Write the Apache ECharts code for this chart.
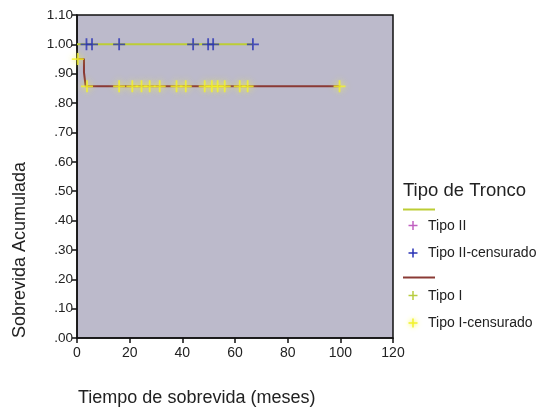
<!DOCTYPE html>
<html>
<head>
<meta charset="utf-8">
<script src="https://cdn.jsdelivr.net/npm/echarts@6/dist/echarts.min.js"></script>
<style>
  html, body { margin: 0; padding: 0; background: #ffffff; }
  #chart { width: 543px; height: 409px; }
</style>
</head>
<body>
<div id="chart"></div>
<script>
// Kaplan-Meier survival by trunk type
const xTicks = [0, 20, 40, 60, 80, 100, 120];
const yTicks = [0, 0.1, 0.2, 0.3, 0.4, 0.5, 0.6, 0.7, 0.8, 0.9, 1.0, 1.1];

// Tipo II: no events, survival stays at 1.00
const tipo2Times = [0, 66.8];
const tipo2Surv = [1.0, 1.0];
const tipo2CensTimes = [3.6, 5.7, 16.0, 44.1, 49.8, 51.7, 66.8];

// Tipo I: step curve
const tipo1Times = [0, 2.65, 3.3, 100];
const tipo1Surv = [0.95, 0.905, 0.857, 0.857];
const tipo1CensTimes = [0.3, 3.8, 16.0, 21.0, 24.5, 27.6, 31.4, 37.8, 41.3, 48.5, 51.2, 53.4, 56.1, 61.8, 64.8, 99.7];

// Step path: value held until the next event time
function stepPath(times, surv) {
  const pts = [];
  for (let i = 0; i < times.length; i++) {
    if (i > 0) pts.push([times[i], surv[i - 1]]);
    pts.push([times[i], surv[i]]);
  }
  return pts;
}
// Survival value at time t (for censored markers)
function survAt(times, surv, t) {
  let v = surv[0];
  for (let i = 0; i < times.length; i++) if (times[i] <= t) v = surv[i];
  return v;
}

const plus = 'path://M4.25,0H5.75V10H4.25ZM0,4.25H10V5.75H0Z';
const FONT = '"Liberation Sans", Arial, sans-serif';

// Small plus-sign glyph for the legend
function legendPlus(cx, cy, color, glow) {
  const s = 4.5, w = 0.75;
  const st = glow ? { fill: color, shadowBlur: 5, shadowColor: color } : { fill: color };
  return {
    type: 'group',
    children: [
      { type: 'rect', shape: { x: cx - s, y: cy - w, width: 2 * s, height: 2 * w }, style: st },
      { type: 'rect', shape: { x: cx - w, y: cy - s, width: 2 * w, height: 2 * s }, style: st }
    ]
  };
}
function legendText(x, y, text) {
  return { type: 'text', x: x, y: y, style: { text: text, fill: '#222', font: '14px ' + FONT, verticalAlign: 'middle' } };
}

const chart = echarts.init(document.getElementById('chart'), null, { renderer: 'canvas' });

chart.setOption({
  animation: false,
  backgroundColor: '#ffffff',
  grid: {
    left: 77, top: 15, width: 316, height: 323,
    show: true, backgroundColor: '#bcbacb', borderColor: '#111', borderWidth: 1.5
  },
  xAxis: {
    type: 'value', min: 0, max: 120, interval: 20,
    axisLine: { show: true, lineStyle: { color: '#111', width: 1.5 } },
    axisTick: { show: true, length: 5, lineStyle: { color: '#111', width: 1.5 } },
    axisLabel: { color: '#222', fontSize: 14, fontFamily: FONT, margin: 8 },
    splitLine: { show: false }
  },
  yAxis: {
    type: 'value', min: 0, max: 1.1, interval: 0.1,
    axisLine: { show: true, lineStyle: { color: '#111', width: 1.5 } },
    axisTick: { show: true, length: 5, lineStyle: { color: '#111', width: 1.5 } },
    axisLabel: {
      color: '#222', fontSize: 13.5, fontFamily: FONT, margin: 4,
      formatter: v => { const s = v.toFixed(2); return s.startsWith('0') ? s.slice(1) : s; }
    },
    splitLine: { show: false }
  },
  series: [
    {
      name: 'Tipo II', type: 'line', data: stepPath(tipo2Times, tipo2Surv),
      showSymbol: false, lineStyle: { color: '#bccd35', width: 2 }, z: 2
    },
    {
      name: 'Tipo I', type: 'line', data: stepPath(tipo1Times, tipo1Surv),
      showSymbol: false, lineStyle: { color: '#8a3a35', width: 2 }, z: 2
    },
    {
      name: 'Tipo II-censurado', type: 'scatter', symbol: plus, symbolSize: 12,
      data: tipo2CensTimes.map(t => [t, survAt(tipo2Times, tipo2Surv, t)]),
      itemStyle: { color: '#2832b4' }, z: 3
    },
    {
      name: 'Tipo I-censurado', type: 'scatter', symbol: plus, symbolSize: 12,
      data: tipo1CensTimes.map(t => [t, survAt(tipo1Times, tipo1Surv, t)]),
      itemStyle: { color: '#f4f428', shadowBlur: 6, shadowColor: '#f6f63a' }, z: 3
    }
  ],
  graphic: [
    {
      type: 'text', x: 11, y: 338, rotation: Math.PI / 2,
      style: { text: 'Sobrevida Acumulada', fill: '#222', font: '18px ' + FONT }
    },
    {
      type: 'text', x: 78, y: 389,
      style: { text: 'Tiempo de sobrevida (meses)', fill: '#222', font: '18px ' + FONT }
    },
    {
      type: 'text', x: 403, y: 181,
      style: { text: 'Tipo de Tronco', fill: '#222', font: '18.5px ' + FONT }
    },
    { type: 'line', shape: { x1: 403, y1: 209.5, x2: 435, y2: 209.5 }, style: { stroke: '#bccd35', lineWidth: 2 } },
    legendPlus(413, 225.5, '#c060c0'),
    legendText(428, 226, 'Tipo II'),
    legendPlus(413, 253, '#2832b4'),
    legendText(428, 253.5, 'Tipo II-censurado'),
    { type: 'line', shape: { x1: 403, y1: 277.5, x2: 435, y2: 277.5 }, style: { stroke: '#8a3a35', lineWidth: 2 } },
    legendPlus(413, 295.5, '#b8cc40'),
    legendText(428, 296, 'Tipo I'),
    legendPlus(413, 323, '#f2f22a', true),
    legendText(428, 323.5, 'Tipo I-censurado')
  ]
});
</script>
</body>
</html>
